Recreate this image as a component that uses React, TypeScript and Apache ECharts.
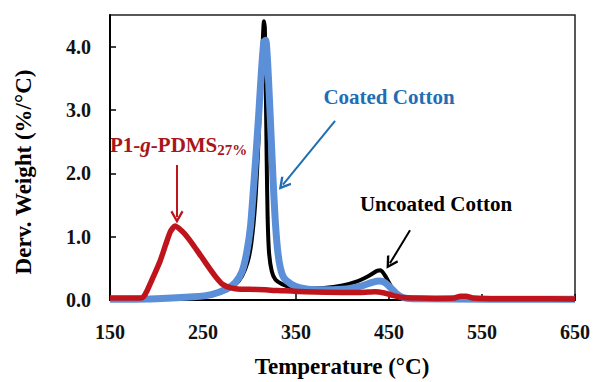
import React, { useEffect, useRef } from "react";
import * as echarts from "echarts";

// Temperature (°C) and derivative weight (%/°C)
const uncoatedTemp = [150, 200, 240, 260, 275, 285, 292, 298, 302, 306, 309, 312, 314, 315.5, 316.5, 317.5, 318.5, 319.5, 321, 324, 328, 335, 345, 360, 380, 400, 415, 428, 437, 441, 446, 452, 458, 465, 480, 650];
const uncoatedDeriv = [0.01, 0.02, 0.04, 0.08, 0.15, 0.25, 0.38, 0.6, 0.9, 1.5, 2.3, 3.3, 4.0, 4.4, 4.3, 3.4, 2.2, 1.3, 0.75, 0.45, 0.32, 0.25, 0.2, 0.18, 0.19, 0.23, 0.29, 0.38, 0.46, 0.47, 0.38, 0.22, 0.1, 0.04, 0.015, 0.01];

const coatedTemp = [150, 200, 240, 260, 275, 285, 292, 297, 301, 304, 307, 310, 313, 315.5, 317.5, 319.5, 321.5, 323.5, 325.5, 327.5, 330, 333, 337, 345, 355, 370, 400, 420, 432, 440, 446, 452, 458, 465, 475, 650];
const coatedDeriv = [0.01, 0.02, 0.05, 0.09, 0.17, 0.28, 0.45, 0.75, 1.15, 1.7, 2.3, 2.95, 3.65, 4.08, 4.1, 3.75, 3.15, 2.5, 1.85, 1.3, 0.82, 0.52, 0.35, 0.25, 0.19, 0.16, 0.17, 0.22, 0.28, 0.3, 0.27, 0.19, 0.1, 0.04, 0.02, 0.01];

const pdmsTemp = [150, 183, 186, 190, 197, 204, 210, 215, 220, 225, 230, 239, 248, 257, 264, 271, 280, 290, 300, 330, 360, 400, 420, 435, 445, 455, 465, 480, 500, 520, 527, 533, 540, 560, 600, 650];
const pdmsDeriv = [0.03, 0.03, 0.05, 0.15, 0.38, 0.62, 0.88, 1.08, 1.17, 1.12, 1.05, 0.88, 0.69, 0.5, 0.36, 0.25, 0.19, 0.17, 0.17, 0.15, 0.13, 0.12, 0.12, 0.13, 0.11, 0.07, 0.04, 0.03, 0.025, 0.03, 0.06, 0.06, 0.03, 0.02, 0.02, 0.015];

const xTicks = { min: 150, max: 650, interval: 100 };
const yTicks = { min: 0, max: 4.5, interval: 1 };

// Annotation arrows in data coordinates: [startT, startV, endT, endV]
const pdmsArrow = [222, 2.13, 222, 1.31];
const coatedArrow = [392, 2.83, 336, 1.82];
const uncoatedArrow = [472.6, 1.1, 451, 0.58];

const FONT = "'Liberation Serif', 'Times New Roman', serif";
const CHEVRON = "path://M5,0 L10,9 L8.6,10.2 L5,3.8 L1.4,10.2 L0,9 Z";

const pairs = (t: number[], v: number[]) => t.map((x, i) => [x, v[i]]);

const arrow = (a: number[], color: string) => ({
  silent: true,
  animation: false,
  symbol: ["none", CHEVRON],
  symbolSize: [13, 13],
  label: { show: false },
  lineStyle: { color, width: 2, type: "solid" },
  emphasis: { disabled: true },
  data: [[{ coord: [a[0], a[1]] }, { coord: [a[2], a[3]] }]],
});

export default function App() {
  const ref = useRef<HTMLDivElement>(null);
  useEffect(() => {
    const chart = echarts.init(ref.current!, null, { renderer: "svg" });
    chart.setOption({
      animation: false,
      backgroundColor: "#ffffff",
      grid: {
        left: 110,
        right: 18,
        top: 15,
        bottom: 82,
        show: true,
        borderColor: "#222",
        borderWidth: 1.5,
      },
      xAxis: {
        type: "value",
        min: xTicks.min,
        max: xTicks.max,
        interval: xTicks.interval,
        splitLine: { show: false },
        axisLine: { lineStyle: { color: "#000", width: 2 } },
        axisTick: { inside: true, length: 6, lineStyle: { color: "#000", width: 1.5 } },
        axisLabel: { margin: 22, color: "#111", fontFamily: FONT, fontWeight: "bold", fontSize: 20 },
      },
      yAxis: {
        type: "value",
        min: yTicks.min,
        max: yTicks.max,
        interval: yTicks.interval,
        splitLine: { show: false },
        axisLine: { show: true, lineStyle: { color: "#000", width: 2 } },
        axisTick: { show: true, inside: true, length: 6, lineStyle: { color: "#000", width: 1.5 } },
        axisLabel: {
          margin: 19,
          showMaxLabel: false,
          color: "#111",
          fontFamily: FONT,
          fontWeight: "bold",
          fontSize: 20,
          formatter: (v: number) => v.toFixed(1),
        },
      },
      series: [
        {
          name: "Uncoated Cotton",
          type: "line",
          data: pairs(uncoatedTemp, uncoatedDeriv),
          showSymbol: false,
          smooth: 0.2,
          lineStyle: { color: "#000", width: 4 },
          z: 2,
          markLine: arrow(uncoatedArrow, "#000"),
        },
        {
          name: "Coated Cotton",
          type: "line",
          data: pairs(coatedTemp, coatedDeriv),
          showSymbol: false,
          smooth: 0.2,
          lineStyle: { color: "#5b8fd8", width: 7 },
          z: 3,
          markLine: arrow(coatedArrow, "#1f6eb5"),
        },
        {
          name: "P1-g-PDMS27%",
          type: "line",
          data: pairs(pdmsTemp, pdmsDeriv),
          showSymbol: false,
          smooth: 0.2,
          lineStyle: { color: "#c0141c", width: 5.5 },
          z: 4,
          markLine: arrow(pdmsArrow, "#c0141c"),
        },
      ],
      graphic: [
        {
          type: "text",
          x: 342,
          y: 366,
          style: {
            text: "Temperature (°C)",
            fontFamily: FONT,
            fontWeight: "bold",
            fontSize: 23,
            fill: "#000",
            align: "center",
            verticalAlign: "middle",
          },
        },
        {
          type: "text",
          x: 23,
          y: 172,
          rotation: Math.PI / 2,
          style: {
            text: "Derv. Weight (%/°C)",
            fontFamily: FONT,
            fontWeight: "bold",
            fontSize: 23,
            fill: "#000",
            align: "center",
            verticalAlign: "middle",
          },
        },
        {
          type: "text",
          x: 389,
          y: 97,
          style: {
            text: "Coated Cotton",
            fontFamily: FONT,
            fontWeight: "bold",
            fontSize: 21,
            fill: "#1f6eb5",
            align: "center",
            verticalAlign: "middle",
          },
        },
        {
          type: "text",
          x: 436,
          y: 204,
          style: {
            text: "Uncoated Cotton",
            fontFamily: FONT,
            fontWeight: "bold",
            fontSize: 21,
            fill: "#000",
            align: "center",
            verticalAlign: "middle",
          },
        },
        {
          type: "text",
          x: 110,
          y: 145,
          style: {
            text: "{a|P1-}{i|g}{a|-PDMS}{s|27%}",
            fontFamily: FONT,
            fill: "#a8161b",
            align: "left",
            verticalAlign: "middle",
            rich: {
              a: { fontFamily: FONT, fontWeight: "bold", fontSize: 21, lineHeight: 24, fill: "#a8161b" },
              i: { fontFamily: FONT, fontWeight: "bold", fontStyle: "italic", fontSize: 21, lineHeight: 24, fill: "#a8161b" },
              s: { fontFamily: FONT, fontWeight: "bold", fontSize: 15, lineHeight: 15, verticalAlign: "bottom", fill: "#a8161b" },
            },
          },
        },
      ],
    });
    return () => chart.dispose();
  }, []);
  return <div ref={ref} style={{ position: "fixed", left: 0, top: 0, width: 593, height: 382 }} />;
}
